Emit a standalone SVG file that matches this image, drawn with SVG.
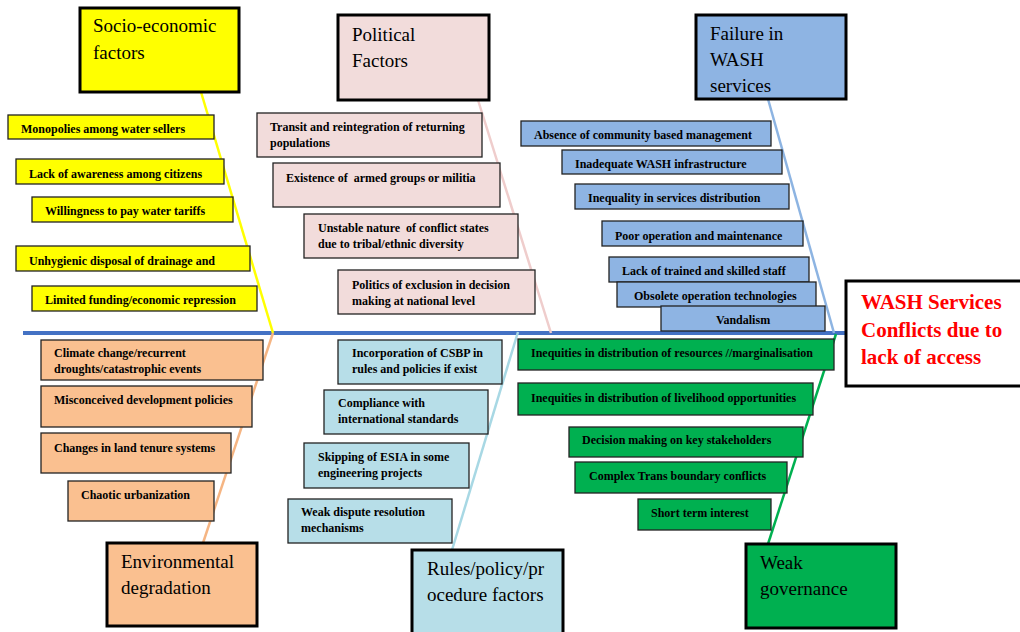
<svg xmlns="http://www.w3.org/2000/svg" width="1020" height="632" viewBox="0 0 1020 632">
  <style>
    .cat { stroke: #000; stroke-width: 3; }
    .item { stroke: #222; stroke-width: 1.3; }
    .cat-text { font-family: "Liberation Serif", "Times New Roman", serif; font-size: 19px; fill: #000; }
    .item-text { font-family: "Liberation Serif", "Times New Roman", serif; font-size: 12px; font-weight: bold; fill: #000; white-space: pre; }
    .head-text { font-family: "Liberation Serif", "Times New Roman", serif; font-size: 21px; font-weight: bold; fill: #FF0000; }
    .yellow { fill: #FFFF00; }
    .pink { fill: #F2DCDB; }
    .blue { fill: #8EB4E3; }
    .orange { fill: #FAC090; }
    .lblue { fill: #B7DEE8; }
    .green { fill: #00B050; }
    .bone { fill: none; stroke-width: 2.5; }
  </style>

  <rect width="1020" height="632" fill="#FFFFFF"/>

  <!-- spine and category bones -->
  <g id="connectors">
    <line x1="23" y1="333" x2="848" y2="333" stroke="#4472C4" stroke-width="4"/>
    <line class="bone" x1="201" y1="92" x2="273" y2="333" stroke="#FFFF00"/>
    <line class="bone" x1="273" y1="333" x2="203" y2="543" stroke="#F5B583"/>
    <line class="bone" x1="478" y1="100" x2="551" y2="333" stroke="#EFCDCC"/>
    <line class="bone" x1="518" y1="332" x2="452" y2="550" stroke="#A8D8E4"/>
    <line class="bone" x1="768" y1="99" x2="834" y2="333" stroke="#8DB4E2"/>
    <line class="bone" x1="836" y1="334" x2="768" y2="544" stroke="#00B050"/>
  </g>

  <!-- Socio-economic factors -->
  <g id="socio-economic">
    <rect class="cat yellow" x="80" y="8" width="159" height="84"/>
    <text class="cat-text" x="93" y="32">Socio-economic</text>
    <text class="cat-text" x="93" y="59">factors</text>
  </g>
  <g id="socio-items">
    <rect class="item yellow" x="8" y="115" width="206" height="24"/>
    <text class="item-text" x="21" y="133">Monopolies among water sellers</text>
    <rect class="item yellow" x="16" y="159" width="208" height="25"/>
    <text class="item-text" x="29" y="178">Lack of awareness among citizens</text>
    <rect class="item yellow" x="32" y="197" width="201" height="25"/>
    <text class="item-text" x="45" y="215">Willingness to pay water tariffs</text>
    <rect class="item yellow" x="16" y="246" width="234" height="25"/>
    <text class="item-text" x="29" y="265">Unhygienic disposal of drainage and</text>
    <rect class="item yellow" x="32" y="286" width="225" height="25"/>
    <text class="item-text" x="45" y="304">Limited funding/economic repression</text>
  </g>

  <!-- Political factors -->
  <g id="political">
    <rect class="cat pink" x="338" y="15" width="151" height="85"/>
    <text class="cat-text" x="352" y="41">Political</text>
    <text class="cat-text" x="352" y="67">Factors</text>
  </g>
  <g id="political-items">
    <rect class="item pink" x="257" y="113" width="225" height="44"/>
    <text class="item-text" x="270" y="131">Transit and reintegration of returning</text>
    <text class="item-text" x="270" y="147">populations</text>
    <rect class="item pink" x="273" y="163" width="227" height="44"/>
    <text class="item-text" x="286" y="182">Existence of  armed groups or militia</text>
    <rect class="item pink" x="304" y="214" width="214" height="44"/>
    <text class="item-text" x="318" y="232">Unstable nature  of conflict states</text>
    <text class="item-text" x="318" y="248">due to tribal/ethnic diversity</text>
    <rect class="item pink" x="338" y="270" width="197" height="44"/>
    <text class="item-text" x="352" y="289">Politics of exclusion in decision</text>
    <text class="item-text" x="352" y="305">making at national level</text>
  </g>

  <!-- Failure in WASH services -->
  <g id="wash-failure">
    <rect class="cat blue" x="696" y="15" width="150" height="84"/>
    <text class="cat-text" x="710" y="40">Failure in</text>
    <text class="cat-text" x="710" y="66">WASH</text>
    <text class="cat-text" x="710" y="92">services</text>
  </g>
  <g id="wash-items">
    <rect class="item blue" x="521" y="121" width="250" height="25"/>
    <text class="item-text" x="534" y="139">Absence of community based management</text>
    <rect class="item blue" x="562" y="150" width="220" height="24"/>
    <text class="item-text" x="575" y="168">Inadequate WASH infrastructure</text>
    <rect class="item blue" x="575" y="184" width="214" height="25"/>
    <text class="item-text" x="588" y="202">Inequality in services distribution</text>
    <rect class="item blue" x="602" y="221" width="201" height="25"/>
    <text class="item-text" x="615" y="240">Poor operation and maintenance</text>
    <rect class="item blue" x="609" y="257" width="200" height="25"/>
    <text class="item-text" x="622" y="275">Lack of trained and skilled staff</text>
    <rect class="item blue" x="617" y="282" width="199" height="25"/>
    <text class="item-text" x="634" y="300">Obsolete operation technologies</text>
    <rect class="item blue" x="661" y="306" width="164" height="25"/>
    <text class="item-text" x="743" y="324" text-anchor="middle">Vandalism</text>
  </g>

  <!-- Environmental degradation -->
  <g id="environmental">
    <rect class="cat orange" x="107" y="543" width="150" height="83"/>
    <text class="cat-text" x="121" y="568">Environmental</text>
    <text class="cat-text" x="121" y="594">degradation</text>
  </g>
  <g id="environmental-items">
    <rect class="item orange" x="41" y="340" width="222" height="40"/>
    <text class="item-text" x="54" y="357">Climate change/recurrent</text>
    <text class="item-text" x="54" y="373">droughts/catastrophic events</text>
    <rect class="item orange" x="41" y="386" width="211" height="41"/>
    <text class="item-text" x="54" y="404">Misconceived development policies</text>
    <rect class="item orange" x="41" y="433" width="190" height="40"/>
    <text class="item-text" x="54" y="452">Changes in land tenure systems</text>
    <rect class="item orange" x="68" y="481" width="146" height="40"/>
    <text class="item-text" x="81" y="499">Chaotic urbanization</text>
  </g>

  <!-- Rules/policy/procedure factors -->
  <g id="rules">
    <rect class="cat lblue" x="412" y="550" width="151" height="90"/>
    <text class="cat-text" x="427" y="575">Rules/policy/pr</text>
    <text class="cat-text" x="427" y="601">ocedure factors</text>
  </g>
  <g id="rules-items">
    <rect class="item lblue" x="338" y="340" width="164" height="44"/>
    <text class="item-text" x="352" y="357">Incorporation of CSBP in</text>
    <text class="item-text" x="352" y="373">rules and policies if exist</text>
    <rect class="item lblue" x="324" y="390" width="164" height="44"/>
    <text class="item-text" x="338" y="407">Compliance with</text>
    <text class="item-text" x="338" y="423">international standards</text>
    <rect class="item lblue" x="304" y="443" width="165" height="45"/>
    <text class="item-text" x="318" y="461">Skipping of ESIA in some</text>
    <text class="item-text" x="318" y="477">engineering projects</text>
    <rect class="item lblue" x="288" y="499" width="164" height="44"/>
    <text class="item-text" x="301" y="516">Weak dispute resolution</text>
    <text class="item-text" x="301" y="532">mechanisms</text>
  </g>

  <!-- Weak governance -->
  <g id="governance">
    <rect class="cat green" x="746" y="544" width="150" height="84"/>
    <text class="cat-text" x="760" y="569">Weak</text>
    <text class="cat-text" x="760" y="595">governance</text>
  </g>
  <g id="governance-items">
    <rect class="item green" x="518" y="339" width="316" height="31"/>
    <text class="item-text" x="531" y="357">Inequities in distribution of resources //marginalisation</text>
    <rect class="item green" x="518" y="383" width="295" height="32"/>
    <text class="item-text" x="531" y="402">Inequities in distribution of livelihood opportunities</text>
    <rect class="item green" x="569" y="427" width="234" height="30"/>
    <text class="item-text" x="582" y="444">Decision making on key stakeholders</text>
    <rect class="item green" x="575" y="462" width="212" height="31"/>
    <text class="item-text" x="589" y="480">Complex Trans boundary conflicts</text>
    <rect class="item green" x="638" y="499" width="133" height="31"/>
    <text class="item-text" x="651" y="517">Short term interest</text>
  </g>

  <!-- Effect (head of the fishbone) -->
  <g id="effect">
    <rect x="846" y="281" width="180" height="105" fill="#FFFFFF" stroke="#000" stroke-width="3"/>
    <text class="head-text" x="861" y="309">WASH Services</text>
    <text class="head-text" x="861" y="337">Conflicts due to</text>
    <text class="head-text" x="861" y="364">lack of access</text>
  </g>
</svg>
